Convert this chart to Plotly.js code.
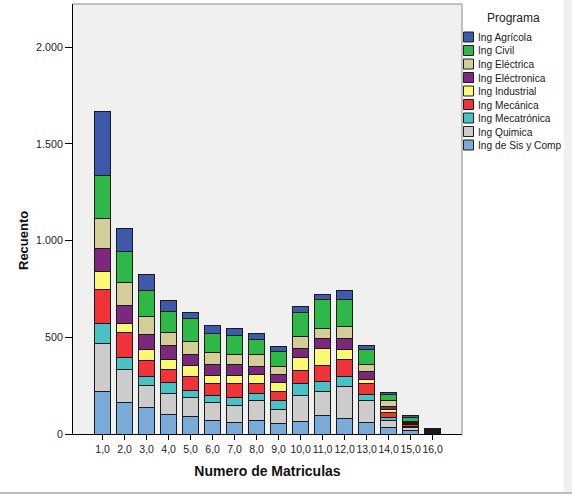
<!DOCTYPE html>
<html>
<head>
<meta charset="utf-8">
<script src="https://cdn.plot.ly/plotly-3.0.1.min.js"></script>
<style>
  html, body { margin: 0; padding: 0; background: #ffffff; }
  #wrap { position: relative; width: 572px; height: 498px; overflow: hidden; }
  #chart { position: absolute; left: 0; top: 0; width: 572px; height: 498px; }
  #strip { position: absolute; left: 564px; top: 0; width: 8px; height: 492px; background: #f0f0f0; }
  #hline { position: absolute; left: 0; top: 492px; width: 572px; height: 2px; background: #bdbdbd; }
</style>
</head>
<body>
<div id="wrap">
  <div id="chart"></div>
  <div id="strip"></div>
  <div id="hline"></div>
</div>
<script>
// ---- data ----
const categories = [1, 2, 3, 4, 5, 6, 7, 8, 9, 10, 11, 12, 13, 14, 15, 16];
const xTickLabels = ['1,0','2,0','3,0','4,0','5,0','6,0','7,0','8,0','9,0','10,0','11,0','12,0','13,0','14,0','15,0','16,0'];
const yTickVals = [0, 500, 1000, 1500, 2000];
const yTickLabels = ['0', '500', '1.000', '1.500', '2.000'];

// stacking order: bottom to top
const programs = ['Ing de Sis y Comp', 'Ing Quimica', 'Ing Mecatrónica', 'Ing Mecánica', 'Ing Industrial',
                  'Ing Eléctronica', 'Ing Eléctrica', 'Ing Civil', 'Ing Agrícola'];
const sisComp     = [222, 164, 138, 100,  90,  70,  60,  72,  55,  67,  96,  81,  60, 36, 18, 3];
const quimica     = [247, 169, 113, 108, 101,  92,  88,  99,  74, 130, 123, 164, 112, 33, 15, 3];
const mecatronica = [105,  63,  49,  56,  33,  38,  43,  39,  43,  62,  52,  50,  30, 17,  8, 3];
const mecanica    = [172, 128,  79,  70,  76,  62,  71,  49,  50,  72,  82,  89,  60, 24, 10, 3];
const industrial  = [ 94,  50,  57,  52,  53,  41,  40,  49,  42,  67,  87,  54,  20, 16,  4, 3];
const electronica = [120,  91,  81,  72,  59,  54,  55,  39,  46,  45,  53,  55,  40, 17,  6, 3];
const electrica   = [154, 119,  93,  68,  67,  62,  55,  62,  37,  59,  52,  64,  38, 31,  6, 3];
const civil       = [224, 159, 133, 110, 116, 103,  95,  79,  80, 129, 150, 141,  78, 28, 20, 3];
const agricola    = [328, 121,  83,  54,  36,  40,  41,  34,  26,  29,  24,  42,  22, 13,  8, 2];
const seriesValues = [sisComp, quimica, mecatronica, mecanica, industrial, electronica, electrica, civil, agricola];
const colors = ['#7aaad8', '#cccccc', '#48c2c5', '#ef3338', '#fbf873', '#7c287d', '#d3ce97', '#2eb848', '#3e58ac'];

// ---- layout constants ----
const W = 572, H = 498;
const M = { l: 73, r: 110, t: 4, b: 64 };
const pw = W - M.l - M.r, ph = H - M.t - M.b;
const px2x = p => (p - M.l) / pw;
const py2y = p => (H - M.b - p) / ph;
const FONT = 'Liberation Sans, Arial, sans-serif';

const traces = programs.map((name, i) => ({
  type: 'bar',
  name: name,
  x: categories,
  y: seriesValues[i],
  marker: { color: colors[i], line: { color: '#1a1a1a', width: 1 } },
  showlegend: false,
  hoverinfo: 'x+y+name'
}));

// custom compact legend (top to bottom = reverse stacking order)
const shapes = [
  { type: 'line', xref: 'paper', yref: 'paper', x0: 0, x1: 1, y0: 1, y1: 1, line: { color: '#8a8a8a', width: 1 } },
  { type: 'line', xref: 'paper', yref: 'paper', x0: 1, x1: 1, y0: 0, y1: 1, line: { color: '#8a8a8a', width: 1 } }
];
const annotations = [
  { xref: 'paper', yref: 'paper', x: px2x(513), y: py2y(18), text: 'Programa', showarrow: false,
    xanchor: 'center', yanchor: 'middle', font: { family: FONT, size: 12, color: '#222' } },
  // y-axis title (SPSS places it lower than plot centre)
  { xref: 'paper', yref: 'paper', x: px2x(24), y: py2y(241), text: 'Recuento', showarrow: false,
    textangle: -90, xanchor: 'center', yanchor: 'middle',
    font: { family: FONT, size: 13, color: '#111', weight: 'bold' } }
];
const legendOrder = programs.map((_, i) => programs.length - 1 - i);
legendOrder.forEach((idx, k) => {
  const cy = 37 + 13.5 * k;
  shapes.push({ type: 'rect', xref: 'paper', yref: 'paper',
    x0: px2x(463.5), x1: px2x(473.5), y0: py2y(cy - 5), y1: py2y(cy + 5),
    fillcolor: colors[idx], line: { color: '#1e1e1e', width: 1 } });
  annotations.push({ xref: 'paper', yref: 'paper', x: px2x(475.5), y: py2y(cy + 0.5),
    text: programs[idx], showarrow: false, xanchor: 'left', yanchor: 'middle',
    font: { family: FONT, size: 10.2, color: '#1a1a1a' } });
});

const layout = {
  width: W, height: H,
  margin: M,
  paper_bgcolor: 'rgba(0,0,0,0)',
  plot_bgcolor: '#f0f0f0',
  barmode: 'stack',
  bargap: 0.27,
  showlegend: false,
  font: { family: FONT, color: '#222' },
  xaxis: {
    range: [-0.345, 17.336],
    tickmode: 'array', tickvals: categories, ticktext: xTickLabels,
    tickangle: 0,
    ticks: 'outside', ticklen: 5, tickcolor: '#000', tickwidth: 1,
    showline: true, linecolor: '#000', linewidth: 1,
    showgrid: false, zeroline: false,
    tickfont: { family: FONT, size: 10.5, color: '#222' },
    title: { text: 'Numero de Matriculas', font: { family: FONT, size: 14, color: '#111', weight: 'bold' }, standoff: 12 }
  },
  yaxis: {
    range: [0, 2224],
    tickmode: 'array', tickvals: yTickVals, ticktext: yTickLabels,
    ticks: 'outside', ticklen: 7, tickcolor: '#000', tickwidth: 1,
    showline: true, linecolor: '#000', linewidth: 1,
    showgrid: false, zeroline: false,
    tickfont: { family: FONT, size: 10.7, color: '#222' }
  },
  shapes: shapes,
  annotations: annotations
};

Plotly.newPlot('chart', traces, layout, { staticPlot: true, displayModeBar: false });
</script>
</body>
</html>
